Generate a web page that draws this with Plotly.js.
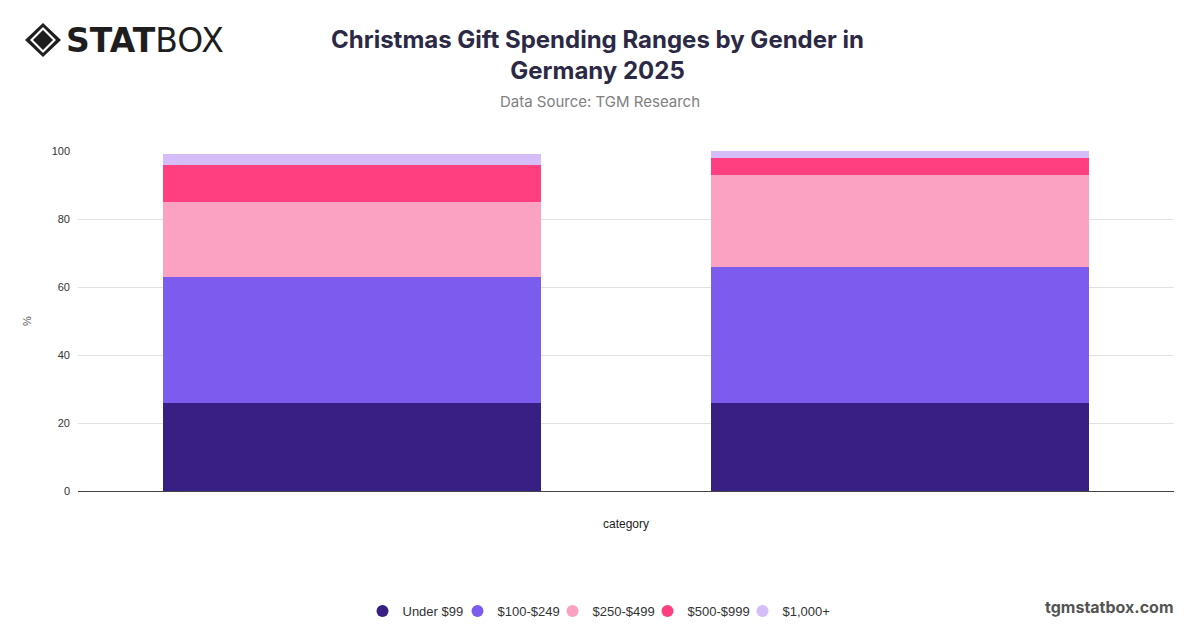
<!DOCTYPE html>
<html>
<head>
<meta charset="utf-8">
<script src="https://cdn.plot.ly/plotly-3.0.1.min.js"></script>
<style>html,body{margin:0;padding:0;background:#fff;}#chart{width:1200px;height:628px;}</style>
</head>
<body>
<div id="chart"></div>
<script>
const categories = ["Men", "Women"];
const seriesNames = ["Under $99", "$100-$249", "$250-$499", "$500-$999", "$1,000+"];
const under99 = [26, 26];
const r100_249 = [37, 40];
const r250_499 = [22, 27];
const r500_999 = [11, 5];
const r1000plus = [3, 2];
const seriesValues = [under99, r100_249, r250_499, r500_999, r1000plus];
const seriesColors = ["#371F83", "#7B5CEE", "#FBA1C1", "#FF3F80", "#D5BDFA"];
const yTicks = [0, 20, 40, 60, 80, 100];

const traces = [];
seriesNames.forEach((name, i) => {
  traces.push({
    type: "bar", name: name, x: categories, y: seriesValues[i],
    marker: {color: seriesColors[i], line: {width: 0}},
    showlegend: false, legendgroup: name, hoverinfo: "y+name"
  });
});
seriesNames.forEach((name, i) => {
  traces.push({
    type: "scatter", mode: "markers", name: name, x: [null], y: [null],
    marker: {color: seriesColors[i], size: 14, symbol: "circle"},
    showlegend: true, legendgroup: name
  });
});

function px(x){ return (x - 78) / 1096; }
function py(y){ return (491 - y) / 340; }

const layout = {
  width: 1200, height: 628,
  paper_bgcolor: "#fff", plot_bgcolor: "#fff",
  margin: {l: 78, r: 26, t: 151, b: 137, autoexpand: false},
  barmode: "stack", bargap: 0.31,
  font: {family: "'Liberation Sans', Arial, sans-serif", color: "#333"},
  xaxis: {
    type: "category", showticklabels: false, ticks: "",
    showgrid: false, showline: true, linecolor: "#444", linewidth: 1,
    title: {text: "category", font: {size: 12, color: "#222"}, standoff: 28}
  },
  yaxis: {
    range: [0, 100], tickvals: yTicks, ticktext: yTicks.map(String),
    showgrid: true, gridcolor: "#E2E2E2", gridwidth: 1, zeroline: false,
    tickfont: {size: 11, color: "#333"}, ticks: "", ticklabelstandoff: 7,
    title: {text: "%", font: {size: 11, color: "#555"}, standoff: 17}
  },
  legend: {
    orientation: "h", x: px(600), xanchor: "center", y: py(611), yanchor: "middle",
    font: {size: 13, color: "#333"}, itemsizing: "constant", traceorder: "normal",
    itemwidth: 30, entrywidth: 50, entrywidthmode: "pixels"
  },
  annotations: [
    {text: "<b>Christmas Gift Spending Ranges by Gender in<br>Germany 2025</b>",
     xref: "paper", yref: "paper", x: px(597), y: py(55), xanchor: "center", yanchor: "middle",
     showarrow: false, font: {size: 24, color: "#2B2945", family: "Inter, sans-serif"}},
    {text: "Data Source: TGM Research", xref: "paper", yref: "paper",
     x: px(600), y: py(101), xanchor: "center", yanchor: "middle", showarrow: false,
     font: {size: 15, color: "#808080", family: "Inter, sans-serif"}},
    {text: "<b>tgmstatbox.com</b>", xref: "paper", yref: "paper",
     x: px(1176), y: py(607), xanchor: "right", yanchor: "middle", showarrow: false,
     font: {size: 16, color: "#555", family: "Inter, sans-serif"}},
    {text: "<b>STAT</b>BOX", xref: "paper", yref: "paper",
     x: px(64), y: py(40), xanchor: "left", yanchor: "middle", showarrow: false,
     font: {size: 33, color: "#1E1E1E", family: "'DejaVu Sans', sans-serif"}}
  ],
  shapes: [
    {type: "path", xref: "paper", yref: "paper", fillcolor: "#1E1E1E", line: {width: 0},
     path: `M ${px(43)} ${py(23)} L ${px(61)} ${py(40)} L ${px(43)} ${py(57)} L ${px(25)} ${py(40)} Z`},
    {type: "path", xref: "paper", yref: "paper", fillcolor: "#fff", line: {width: 0},
     path: `M ${px(43)} ${py(27)} L ${px(56)} ${py(40)} L ${px(43)} ${py(53)} L ${px(30)} ${py(40)} Z`},
    {type: "path", xref: "paper", yref: "paper", fillcolor: "#1E1E1E", line: {width: 0},
     path: `M ${px(43)} ${py(30)} L ${px(53)} ${py(40)} L ${px(43)} ${py(50)} L ${px(33)} ${py(40)} Z`}
  ]
};

Plotly.newPlot("chart", traces, layout, {displayModeBar: false, staticPlot: true});
</script>
</body>
</html>
